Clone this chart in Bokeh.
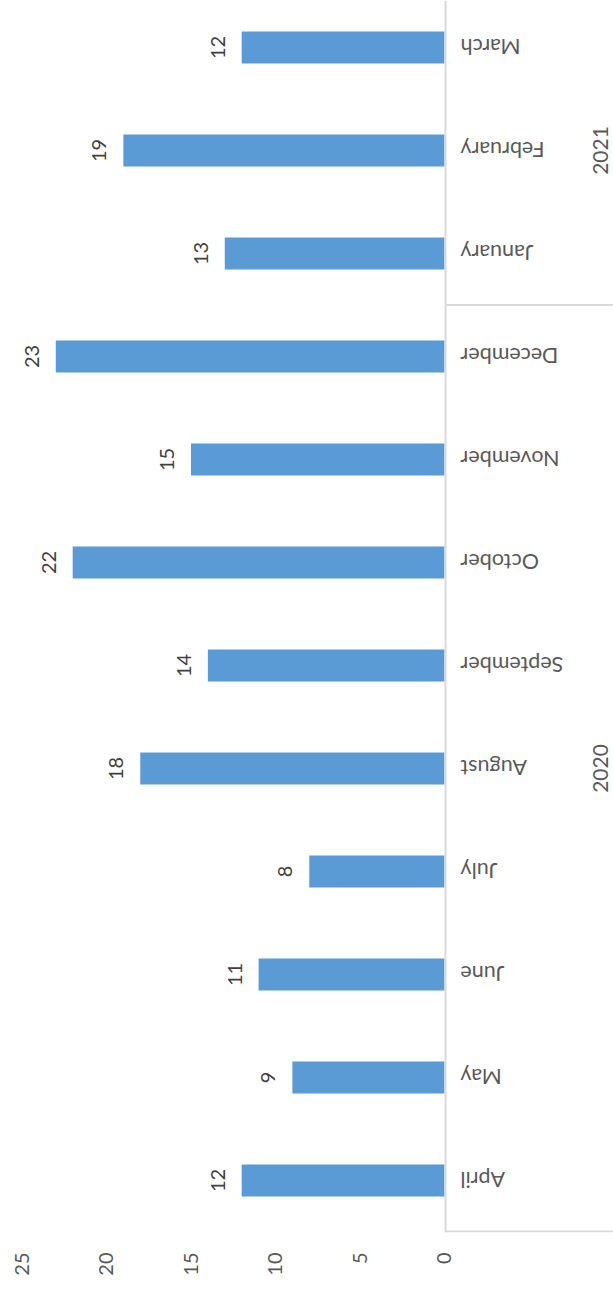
from math import pi

from bokeh.core.properties import value
from bokeh.embed import file_html
from bokeh.models import ColumnDataSource, FixedTicker, Range1d
from bokeh.plotting import figure
from bokeh.resources import INLINE

# Monthly counts, April 2020 – March 2021
months = ["April", "May", "June", "July", "August", "September",
          "October", "November", "December", "January", "February", "March"]
years = ["2020"] * 9 + ["2021"] * 3
counts = [12, 9, 11, 8, 18, 14, 22, 15, 23, 13, 19, 12]
value_ticks = [0, 5, 10, 15, 20, 25]

FONT = "Lato"
BAR = "#5B9BD5"
AXIS_TXT = "#595959"
LABEL_TXT = "#404040"
RULE = "#D9D9D9"

pos = list(range(len(months)))
src = ColumnDataSource(dict(pos=pos, month=months, count=counts,
                            label=[str(c) for c in counts]))

# year groups: centre position of each group and the boundary between them
year_names = []
for y in years:
    if y not in year_names:
        year_names.append(y)
year_pos = [sum(i for i, y in zip(pos, years) if y == yn) /
            sum(1 for y in years if y == yn) for yn in year_names]
boundaries = [i + 0.5 for i in range(len(years) - 1) if years[i] != years[i + 1]]

y_lo, y_hi = -0.505, 11.456
x_left, x_right = 26.27, -10.0

p = figure(frame_width=613, frame_height=1232,
           x_range=Range1d(x_left, x_right), y_range=Range1d(y_lo, y_hi),
           y_axis_location=None, output_backend="svg", toolbar_location=None,
           min_border=0)
p.outline_line_color = None
p.grid.visible = False
p.background_fill_color = "white"
p.border_fill_color = "white"

p.hbar(y="pos", left=0, right="count", height=0.31, source=src,
       fill_color=BAR, line_color=None)

# value labels beside the bar ends
p.text(x="count", y="pos", text="label", source=src, angle=pi / 2,
       x_offset=-24, text_align="center", text_baseline="middle",
       text_font=value(FONT), text_font_size="20px", text_color=LABEL_TXT)

# category axis region: month labels, year labels and rules
p.text(x=0, y="pos", text="month", source=src, angle=pi,
       x_offset=16, text_align="right", text_baseline="middle",
       text_font=value(FONT), text_font_size="21.5px", text_color=AXIS_TXT)

ysrc = ColumnDataSource(dict(year=year_names, pos=year_pos))
p.text(x=0, y="pos", text="year", source=ysrc, angle=pi / 2,
       x_offset=156, text_align="center", text_baseline="middle",
       text_font=value(FONT), text_font_size="21px", text_color=AXIS_TXT)

p.segment(x0=[-0.06], y0=[y_lo], x1=[-0.06], y1=[y_hi],
          line_color=RULE, line_width=2)
hy = boundaries + [-0.495]
p.segment(x0=[-0.06] * len(hy), y0=hy, x1=[x_right] * len(hy), y1=hy,
          line_color=RULE, line_width=2)

ax = p.xaxis[0]
ax.ticker = FixedTicker(ticks=value_ticks)
ax.major_label_orientation = pi / 2
ax.axis_line_color = None
ax.major_tick_line_color = None
ax.minor_tick_line_color = None
ax.major_tick_out = 0
ax.major_tick_in = 0
ax.major_label_standoff = 20
ax.major_label_text_font = FONT
ax.major_label_text_font_size = "20px"
ax.major_label_text_color = AXIS_TXT

open("out.html", "w").write(file_html(p, INLINE))
